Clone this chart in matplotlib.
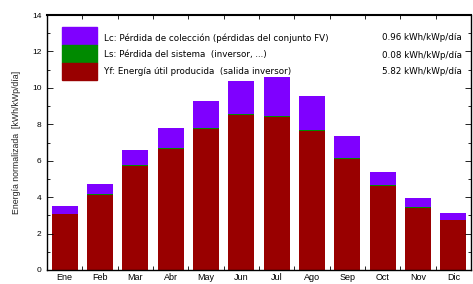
import matplotlib
matplotlib.use("Agg")
import matplotlib.pyplot as plt
import numpy as np
from matplotlib.patches import Rectangle

plt.rcParams['font.family'] = ['Liberation Sans', 'DejaVu Sans']

months = ["Ene", "Feb", "Mar", "Abr", "May", "Jun", "Jul", "Ago", "Sep", "Oct", "Nov", "Dic"]
yf = [3.05, 4.14, 5.72, 6.63, 7.72, 8.50, 8.42, 7.65, 6.08, 4.60, 3.40, 2.72]
ls = [0.04, 0.04, 0.05, 0.05, 0.05, 0.06, 0.06, 0.05, 0.05, 0.04, 0.04, 0.04]
lc = [0.41, 0.55, 0.82, 1.09, 1.49, 1.81, 2.11, 1.84, 1.24, 0.76, 0.52, 0.37]

legend_labels = ["Lc: Pérdida de colección (pérdidas del conjunto FV)",
                 "Ls: Pérdida del sistema  (inversor, ...)",
                 "Yf: Energía útil producida  (salida inversor)"]
legend_values = ["0.96 kWh/kWp/día", "0.08 kWh/kWp/día", "5.82 kWh/kWp/día"]

c_lc, c_ls, c_yf = '#7f00ff', '#008a00', '#990000'

fig = plt.figure(figsize=(4.73, 2.84), dpi=100)
ax = fig.add_axes([47/473, 14/284, (471-47)/473, (270-15)/284])

x = np.arange(len(months))
w = 0.73
yf_a = np.array(yf); ls_a = np.array(ls); lc_a = np.array(lc)
ax.bar(x, yf_a, w, color=c_yf)
ax.bar(x, ls_a, w, bottom=yf_a, color=c_ls)
ax.bar(x, lc_a, w, bottom=yf_a + ls_a, color=c_lc)

ax.set_xlim(-0.5, 11.5)
ax.set_ylim(0, 14)
ax.set_xticks(x)
ax.set_xticklabels(months, fontsize=6.5)
ax.set_xticks(np.arange(-0.5, 12, 1), minor=True)
ax.tick_params(axis='x', which='major', length=0, pad=2.5)
ax.tick_params(axis='x', which='minor', direction='in', length=3, top=True, bottom=True, width=0.6)
ax.set_yticks(np.arange(0, 15, 2))
ax.set_yticks(np.arange(1, 14, 2), minor=True)
ax.tick_params(axis='y', which='major', direction='in', length=4, labelsize=6, right=True, width=0.6, pad=4)
ax.tick_params(axis='y', which='minor', direction='in', length=2, right=True, width=0.6)
ax.set_ylabel("Energía normalizada  [kWh/kWp/día]", fontsize=6.3, labelpad=8, color='#222222')
for s in ax.spines.values():
    s.set_linewidth(1.0)
ax.spines['top'].set_linewidth(1.5)

tr = ax.transAxes
bx0, bw = (62-47)/424, (97-62)/424
cols = [c_lc, c_ls, c_yf]
ys = [(270-27)/255, (270-45)/255, (270-63)/255]
hts = [18/255, 18/255, 17/255]
for i, c in enumerate(cols):
    ax.add_patch(Rectangle((bx0, ys[i] - hts[i]), bw, hts[i], transform=tr, color=c, clip_on=False))
for i in range(3):
    yc = (270 - (38 + 17 * i)) / 255
    ax.text((104-47)/424, yc, legend_labels[i], transform=tr, fontsize=6.3,
            family='DejaVu Sans', va='center', ha='left')
    ax.text((462-47)/424, yc, legend_values[i], transform=tr, fontsize=6.3,
            family='DejaVu Sans', va='center', ha='right')

fig.savefig("out.png", dpi=100)
